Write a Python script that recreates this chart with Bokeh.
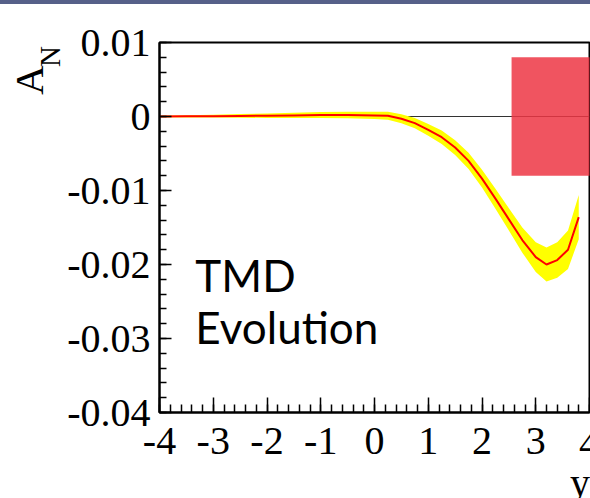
from bokeh.plotting import figure
from bokeh.models import FixedTicker, CustomJSTickFormatter, Label, Span, ColumnDataSource, Range1d, Div
from bokeh.layouts import column, row
from bokeh.embed import file_html
from bokeh.resources import INLINE

# ---- data ----
rapidity = [-4.0, -3.5, -3.0, -2.5, -2.0, -1.5, -1.0, -0.5, 0.0, 0.25, 0.5, 0.75,
            1.0, 1.25, 1.5, 1.75, 2.0, 2.25, 2.5, 2.75, 3.0, 3.2, 3.4, 3.6, 3.8]
an_central = [0.0, 0.00003, 0.00005, 0.00008, 0.0001, 0.00015, 0.0002, 0.0002, 0.00015, 0.0001,
              -0.0003, -0.0009, -0.0018, -0.0028, -0.0042, -0.0060, -0.0084, -0.0111,
              -0.0139, -0.0167, -0.0190, -0.0200, -0.0194, -0.0180, -0.0136]
an_halfwidth = [0.0001, 0.00015, 0.0002, 0.00025, 0.0003, 0.00035, 0.0004, 0.00045, 0.0005, 0.00055,
                0.0006, 0.0007, 0.0008, 0.0009, 0.0010, 0.0011, 0.0012, 0.00135,
                0.0015, 0.0017, 0.0020, 0.0023, 0.0024, 0.0026, 0.0030]
an_lower = [c - h for c, h in zip(an_central, an_halfwidth)]
an_upper = [c + h for c, h in zip(an_central, an_halfwidth)]

box_left = [2.55]
box_right = [4.5]
box_bottom = [-0.008]
box_top = [0.008]

x_ticks = [-4, -3, -2, -1, 0, 1, 2, 3, 4]
x_minor = [round(-4 + 0.2 * i, 2) for i in range(41)]
y_ticks = [-0.04, -0.03, -0.02, -0.01, 0.0, 0.01]
y_minor = [round(-0.04 + 0.002 * i, 4) for i in range(26)]
x_edge_label = "4"   # last x tick label, drawn half cut off at the window edge

y_title_main = "A"
y_title_sub = "N"
x_title = "y"
note_lines = ["TMD", "Evolution"]

SERIF = "Liberation Serif"

# slide header strip
top_bar = Div(text="", width=590, height=4, margin=0,
              styles={"background-color": "#566089", "width": "590px", "height": "4px"})

# rotated y-axis title A_N (ROOT style)
rot = ("position:absolute;transform-origin:0 0;transform:rotate(-90deg);"
       "font-family:'Liberation Serif';line-height:1;white-space:nowrap;color:black;")
left = Div(text=(
    '<div style="position:relative;width:64px;height:100px;overflow:hidden;">'
    f'<div style="{rot}left:9px;top:91px;font-size:41px;">{y_title_main}</div>'
    f'<div style="{rot}left:36px;top:63px;font-size:29px;">{y_title_sub}</div>'
    '</div>'), width=64, height=100, margin=0)

# main plot
p = figure(width=526, height=470, output_backend="svg", toolbar_location=None,
           x_range=Range1d(-4, 4), y_range=Range1d(-0.04, 0.01),
           min_border_left=94, min_border_right=1, min_border_top=38, min_border_bottom=62)
p.grid.visible = False
p.outline_line_color = "black"
p.outline_line_width = 2
p.background_fill_color = "white"
p.border_fill_color = "white"

zero = Span(location=0, dimension="width", line_color="#333333", line_width=1, level="underlay")
p.add_layout(zero)

band = ColumnDataSource(dict(x=rapidity, lo=an_lower, hi=an_upper, c=an_central))
p.varea(x="x", y1="lo", y2="hi", source=band, fill_color="#ffff00")
p.line(x="x", y="c", source=band, line_color="#ff0000", line_width=2)

p.quad(left=box_left, right=box_right, bottom=box_bottom, top=box_top,
       fill_color="#ed3644", fill_alpha=0.85, line_color=None)

for ax in (p.xaxis[0], p.yaxis[0]):
    ax.axis_line_width = 2
    ax.axis_line_color = "black"
    ax.major_tick_out = 0
    ax.minor_tick_out = 0
    ax.major_tick_line_width = 1.5
    ax.minor_tick_line_width = 1.5
    ax.major_label_text_font = SERIF
    ax.major_label_text_font_size = "40px"
    ax.major_label_text_color = "black"

p.xaxis.ticker = FixedTicker(ticks=x_ticks, minor_ticks=x_minor)
# the last label is drawn below (Bokeh would nudge it inside the canvas)
p.xaxis.formatter = CustomJSTickFormatter(code="return tick > 3.999 ? '' : tick.toFixed(0);")
p.xaxis.major_tick_in = 15
p.xaxis.minor_tick_in = 8
p.xaxis.major_label_standoff = 15

p.yaxis.ticker = FixedTicker(ticks=y_ticks, minor_ticks=y_minor)
p.yaxis.formatter = CustomJSTickFormatter(code="return Math.abs(tick) < 1e-9 ? '0' : tick.toFixed(2);")
p.yaxis.major_tick_in = 12
p.yaxis.minor_tick_in = 7
p.yaxis.major_label_standoff = 9

# in-plot annotation
p.add_layout(Label(x=-3.333, y=-0.0214, text=note_lines[0], text_font="Lato", text_font_size="44px",
                   text_align="left", text_baseline="alphabetic", text_color="black"))
p.add_layout(Label(x=-3.333, y=-0.0285, text=note_lines[1], text_font="Lato", text_font_size="44px",
                   text_align="left", text_baseline="alphabetic", text_color="black"))

# x-axis title at the right end, below the tick labels (+ the cut-off last tick label)
serif_css = "font-family:'Liberation Serif';font-size:40px;line-height:1;color:black;white-space:nowrap;"
bottom = Div(text=(
    '<div style="position:relative;width:590px;height:24px;">'
    f'<div style="position:absolute;left:579px;top:-50.5px;{serif_css}">{x_edge_label}</div>'
    '<div style="position:absolute;left:0;top:0;width:590px;height:24px;overflow:hidden;">'
    f'<div style="position:absolute;right:0px;top:-11.5px;{serif_css}">{x_title}</div>'
    '</div></div>'), width=590, height=24, margin=0)

layout = column(top_bar, row(left, p, spacing=0), bottom, spacing=0)

open("out.html", "w").write(file_html(layout, INLINE))
